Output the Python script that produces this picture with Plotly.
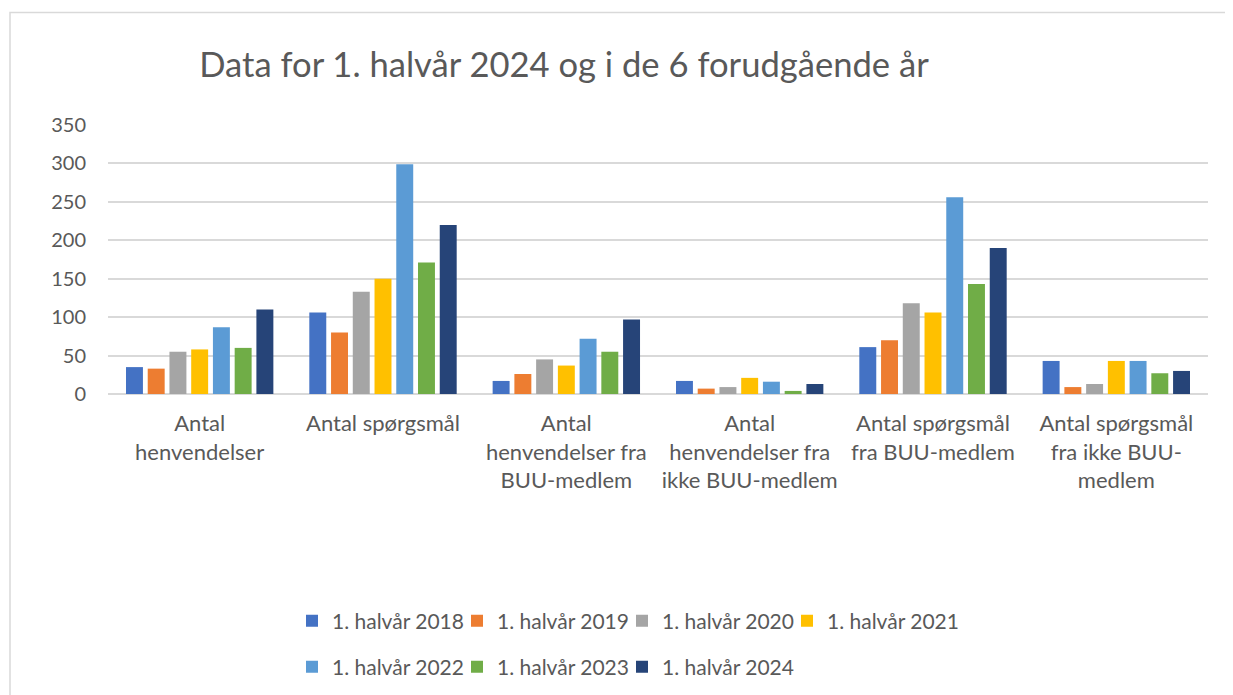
import plotly.graph_objects as go

categories = [
    "Antal<br>henvendelser",
    "Antal spørgsmål",
    "Antal<br>henvendelser fra<br>BUU-medlem",
    "Antal<br>henvendelser fra<br>ikke BUU-medlem",
    "Antal spørgsmål<br>fra BUU-medlem",
    "Antal spørgsmål<br>fra ikke BUU-<br>medlem",
]
series_names = ["1. halvår 2018", "1. halvår 2019", "1. halvår 2020", "1. halvår 2021",
                "1. halvår 2022", "1. halvår 2023", "1. halvår 2024"]
v2018 = [35, 106, 17, 17, 61, 43]
v2019 = [33, 80, 26, 7, 70, 9]
v2020 = [55, 133, 45, 9, 118, 13]
v2021 = [58, 150, 37, 21, 106, 43]
v2022 = [87, 299, 72, 16, 256, 43]
v2023 = [60, 171, 55, 4, 143, 27]
v2024 = [110, 220, 97, 13, 190, 30]
series_values = [v2018, v2019, v2020, v2021, v2022, v2023, v2024]
colors = ["#4472C4", "#ED7D31", "#A5A5A5", "#FFC000", "#5B9BD5", "#70AD47", "#264478"]

FONT = "Lato"
TXT = "#595959"

# page body has an 8px margin; compensate so screen positions match
OFF = 8
W, H = 1233, 695
PL, PR, PT, PB = 108 - OFF, 1208 - OFF, 124.7 - OFF, 394.3 - OFF  # plot area in figure px
PW, PH = PR - PL, PB - PT


def px_x(sx):
    return (sx - OFF - PL) / PW


def px_y(sy):
    return (PB - (sy - OFF)) / PH


fig = go.Figure()
for i, (name, vals, col) in enumerate(zip(series_names, series_values, colors)):
    fig.add_trace(go.Bar(
        x=categories, y=vals, name=name, marker=dict(color=col, line=dict(width=0)),
        legend="legend" if i < 4 else "legend2",
    ))

# invisible spacer entries (point far outside the fixed y-range) so the last
# legend label in each row is not clipped
for lg in ["legend", "legend2"]:
    fig.add_trace(go.Scatter(x=[categories[0]], y=[-10000], mode="markers", name=" ",
                             showlegend=True, marker=dict(color="rgba(0,0,0,0)", size=1),
                             legend=lg, hoverinfo="skip"))

leg_common = dict(orientation="h", xanchor="left", yanchor="middle",
                  font=dict(family=FONT, size=21, color=TXT),
                  entrywidth=120, entrywidthmode="pixels", itemwidth=30,
                  bgcolor="rgba(0,0,0,0)")

fig.update_layout(
    width=W, height=H,
    paper_bgcolor="white", plot_bgcolor="white",
    margin=dict(l=PL, r=W - PR, t=PT, b=H - PB, autoexpand=False),
    barmode="group", bargap=0.17, bargroupgap=0.22,
    title=dict(text="Data for 1. halvår 2024 og i de 6 forudgående år",
               x=(564 - OFF) / W, xanchor="center", y=1 - (65 - OFF) / H, yanchor="middle",
               font=dict(family=FONT, size=34.6, color=TXT)),
    font=dict(family=FONT, color=TXT),
    xaxis=dict(showgrid=False, showline=False, ticks="", tickangle=0, ticklabelstandoff=14,
               tickfont=dict(family=FONT, size=22, color=TXT)),
    yaxis=dict(range=[0, 350], dtick=50, showgrid=True, gridcolor="#D9D9D9", gridwidth=1.5,
               zeroline=True, zerolinecolor="#D9D9D9", zerolinewidth=1.5,
               ticks="", ticklabelstandoff=21, autorange=False,
               tickfont=dict(family=FONT, size=20, color=TXT)),
    legend=dict(x=px_x(292), y=px_y(622), **leg_common),
    legend2=dict(x=px_x(292), y=px_y(668), **leg_common),
    shapes=[dict(type="rect", xref="paper", yref="paper",
                 x0=px_x(10), x1=px_x(1250),
                 y0=px_y(720), y1=px_y(12),
                 line=dict(color="#D9D9D9", width=1.5), layer="below")],
)

fig.write_html("out.html")
